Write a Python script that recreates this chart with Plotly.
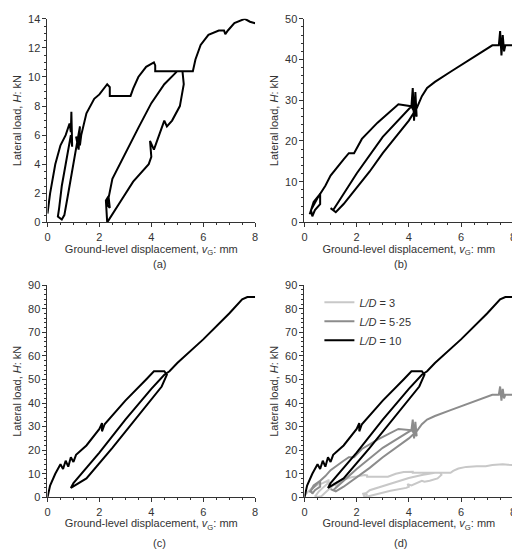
import plotly.graph_objects as go

# L/D = 3  (panel a)
x_ld3 = [0, 0.1, 0.3, 0.5, 0.7, 0.85, 0.9, 0.92, 0.95, 0.9, 0.7, 0.55, 0.45, 0.4, 0.55, 0.65, 0.8, 1.0, 1.15, 1.25, 1.2, 1.1, 1.25, 1.3, 1.5, 1.8, 2.0, 2.3, 2.4, 2.4, 3.2, 3.3, 3.5, 3.8, 4.1, 4.15, 4.15, 5.2, 5.25, 5.1, 4.8, 4.6, 4.5, 4.3, 4.1, 3.95, 4.0, 3.9, 3.3, 2.8, 2.5, 2.3, 2.25, 2.35, 2.4, 2.3, 2.5, 3.0, 3.5, 4.0, 4.5, 5.0, 5.6, 5.7, 5.9, 6.2, 6.6, 6.8, 6.85, 6.95, 7.2, 7.6, 7.8, 8.0]
y_ld3 = [0.6, 2.0, 4.0, 5.3, 6.0, 6.8, 6.2, 7.6, 5.2, 6.0, 4.0, 2.5, 1.0, 0.4, 0.2, 0.5, 2.0, 4.0, 5.5, 6.6, 5.0, 5.9, 5.3, 6.0, 7.5, 8.5, 8.8, 9.5, 9.3, 8.7, 8.7, 9.2, 10.0, 10.7, 11.0, 10.8, 10.4, 10.4, 9.5, 8.0, 7.0, 6.6, 7.0, 6.0, 5.0, 5.6, 4.5, 4.0, 2.8, 1.4, 0.5, 0.0, 1.5, 1.8, 1.0, 1.2, 3.0, 4.8, 6.5, 8.2, 9.5, 10.4, 10.4, 11.2, 12.2, 12.9, 13.2, 13.2, 12.95, 13.2, 13.7, 14.0, 13.8, 13.7]

# L/D = 5.25  (panel b)
x_ld5 = [0.2, 0.35, 0.6, 0.6, 0.4, 0.3, 0.25, 0.5, 0.8, 1.0, 1.5, 1.7, 1.9, 2.2, 2.8, 3.5, 3.6, 4.1, 4.15, 4.2, 4.25, 4.3, 4.1, 3.0, 2.0, 1.3, 1.1, 1.0, 1.2, 1.5, 2.0, 2.5, 3.0, 3.5, 4.0, 4.3, 4.5, 4.7, 5.0, 5.6, 6.2, 6.8, 7.2, 7.45, 7.5, 7.55, 7.6, 7.65, 7.7, 8.0]
y_ld5 = [2.0, 5.0, 7.0, 4.5, 3.0, 1.5, 3.0, 6.0, 9.0, 11.5, 15.5, 17.0, 17.0, 20.5, 24.5, 28.5, 29.0, 28.5, 33.0, 25.0, 32.0, 26.0, 28.5, 21.0, 12.0, 5.0, 3.0, 3.5, 2.5, 4.5, 8.5, 12.5, 17.0, 21.0, 25.0, 28.0, 31.0, 33.0, 34.5, 37.0, 39.5, 42.0, 43.5, 43.5, 47.0, 41.0, 46.0, 42.0, 43.5, 43.5]

# L/D = 10  (panel c)
x_ld10 = [0.0, 0.1, 0.3, 0.5, 0.6, 0.7, 0.8, 0.9, 1.0, 1.1, 1.5, 2.0, 2.1, 2.1, 2.2, 3.0, 3.8, 4.1, 4.5, 4.6, 4.4, 3.5, 2.5, 1.5, 1.0, 0.9, 1.0, 2.0, 3.0, 4.0, 4.5, 4.7, 5.0, 6.0, 7.0, 7.5, 7.7, 8.0]
y_ld10 = [0.0, 5.0, 10.0, 14.0, 12.0, 15.5, 13.0, 17.0, 15.0, 18.0, 22.0, 29.0, 31.5, 28.0, 31.0, 41.0, 50.0, 53.5, 53.5, 52.0, 47.0, 34.5, 21.0, 8.0, 4.5, 4.0, 6.0, 19.0, 33.0, 46.0, 52.0, 53.5, 57.0, 67.0, 78.0, 84.0, 85.0, 85.0]

labels = ["(a)", "(b)", "(c)", "(d)"]
y_tops = [14, 50, 90, 90]
y_steps = [2, 10, 10, 10]

fig = go.Figure()
font = dict(family="Liberation Sans, Arial", size=11, color="#333")

fig.add_trace(go.Scatter(x=x_ld3, y=y_ld3, mode="lines", line=dict(color="black", width=2),
                         showlegend=False, xaxis="x", yaxis="y"))
fig.add_trace(go.Scatter(x=x_ld5, y=y_ld5, mode="lines", line=dict(color="black", width=2),
                         showlegend=False, xaxis="x2", yaxis="y2"))
fig.add_trace(go.Scatter(x=x_ld10, y=y_ld10, mode="lines", line=dict(color="black", width=2),
                         showlegend=False, xaxis="x3", yaxis="y3"))
fig.add_trace(go.Scatter(x=x_ld3, y=y_ld3, mode="lines", line=dict(color="#c8c8c8", width=2),
                         name="<i>L/D</i> = 3", xaxis="x4", yaxis="y4"))
fig.add_trace(go.Scatter(x=x_ld5, y=y_ld5, mode="lines", line=dict(color="#8c8c8c", width=2),
                         name="<i>L/D</i> = 5·25", xaxis="x4", yaxis="y4"))
fig.add_trace(go.Scatter(x=x_ld10, y=y_ld10, mode="lines", line=dict(color="black", width=2),
                         name="<i>L/D</i> = 10", xaxis="x4", yaxis="y4"))

xdoms = [[0.071, 0.475], [0.571, 0.977], [0.071, 0.475], [0.571, 0.977]]
ydoms = [[0.612, 0.991], [0.612, 0.991], [0.100, 0.495], [0.100, 0.495]]
cap_y = [0.534, 0.534, 0.015, 0.015]

layout = dict(width=520, height=549, margin=dict(l=0, r=0, t=0, b=0),
              plot_bgcolor="white", paper_bgcolor="white", font=font,
              legend=dict(x=0.60, y=0.49, xanchor="left", yanchor="top",
                          bgcolor="rgba(0,0,0,0)", font=dict(size=11)),
              annotations=[])
for i in range(4):
    s = "" if i == 0 else str(i + 1)
    axis_common = dict(showline=True, linecolor="#333", linewidth=1, ticks="outside",
                       ticklen=4, tickcolor="#333", showgrid=False, zeroline=False,
                       tickfont=dict(size=11),
                       minor=dict(ticks="outside", ticklen=2, tickcolor="#333"))
    layout["xaxis" + s] = dict(domain=xdoms[i], range=[0, 8], dtick=2, anchor="y" + s,
                               title=dict(text="Ground-level displacement, <i>v</i><sub>G</sub>: mm",
                                          standoff=2, font=dict(size=11)),
                               **axis_common)
    layout["yaxis" + s] = dict(domain=ydoms[i], range=[0, y_tops[i]], dtick=y_steps[i],
                               anchor="x" + s,
                               title=dict(text="Lateral load, <i>H</i>: kN", standoff=4,
                                          font=dict(size=11)),
                               **axis_common)
    layout["annotations"].append(dict(text=labels[i], x=sum(xdoms[i]) / 2, y=cap_y[i],
                                      xref="paper", yref="paper", yanchor="middle",
                                      showarrow=False, font=dict(size=11)))

fig.update_layout(**layout)
fig.write_html("out.html")
